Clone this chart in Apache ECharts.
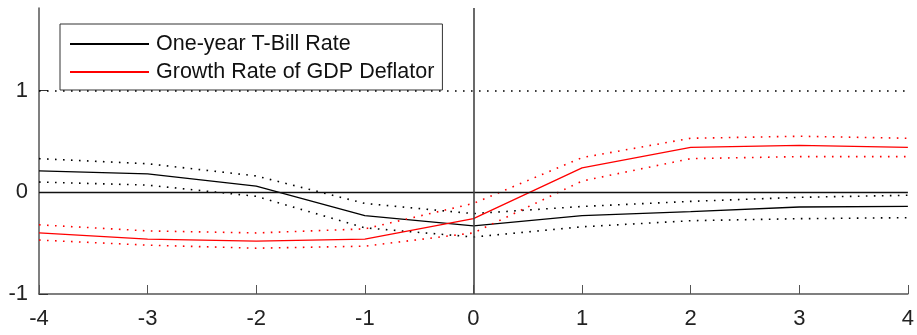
<!DOCTYPE html>
<html>
<head>
<meta charset="utf-8">
<script src="https://cdn.jsdelivr.net/npm/echarts@6/dist/echarts.min.js"></script>
<style>
  html, body { margin: 0; padding: 0; background: #fff; }
  #chart { width: 917px; height: 335px; }
</style>
</head>
<body>
<div id="chart"></div>
<script>
// Horizons (quarters relative to the shock)
const horizons = [-4, -3, -2, -1, 0, 1, 2, 3, 4];

// One-year T-Bill rate response and its confidence band
const tbill      = [0.21, 0.18, 0.06, -0.23, -0.33, -0.23, -0.19, -0.145, -0.14];
const tbillUpper = [0.33, 0.28, 0.16, -0.11, -0.21, -0.14, -0.09, -0.05, -0.03];
const tbillLower = [0.10, 0.07, -0.04, -0.35, -0.44, -0.34, -0.28, -0.26, -0.25];

// Growth rate of GDP deflator response and its confidence band
const deflator      = [-0.40, -0.46, -0.48, -0.46, -0.26, 0.24, 0.44, 0.46, 0.44];
const deflatorUpper = [-0.32, -0.38, -0.40, -0.36, -0.11, 0.34, 0.53, 0.55, 0.53];
const deflatorLower = [-0.47, -0.52, -0.55, -0.53, -0.40, 0.11, 0.33, 0.35, 0.35];

// Axis settings
const yTicks = [-1, 0, 1];
const seriesNames = ['One-year T-Bill Rate', 'Growth Rate of GDP Deflator'];

const pairs = vals => horizons.map((h, i) => [h, vals[i]]);
const dotted = [1.6, 6.4];

function lineSeries(name, vals, color, dashed) {
  return {
    name: name,
    type: 'line',
    data: pairs(vals),
    symbol: 'none',
    silent: true,
    animation: false,
    itemStyle: { color: color },
    lineStyle: { color: color, width: dashed ? 1.6 : 1.3, type: dashed ? dotted : 'solid' },
    z: color === 'red' ? 4 : 3
  };
}

const chart = echarts.init(document.getElementById('chart'), null, { renderer: 'canvas' });

const font = '"Liberation Sans", Arial, sans-serif';

chart.setOption({
  animation: false,
  grid: { left: 39, right: 6, top: 8, bottom: 41, containLabel: false },
  legend: {
    data: seriesNames,
    orient: 'vertical',
    left: 60,
    top: 24,
    padding: [9, 8, 7, 9],
    itemGap: 6,
    itemWidth: 79,
    itemHeight: 14,
    borderColor: '#333',
    borderWidth: 1,
    backgroundColor: '#fff',
    itemStyle: { opacity: 0 },
    textStyle: { fontFamily: font, fontSize: 21.5, color: '#111', padding: [0, 0, 0, 2] },
    selectedMode: false
  },
  xAxis: {
    type: 'value',
    min: -4,
    max: 4,
    interval: 1,
    axisLine: { onZero: false, lineStyle: { color: '#555', width: 1.5 } },
    axisTick: { inside: true, length: 9, lineStyle: { color: '#555', width: 1 } },
    axisLabel: { margin: 14, fontFamily: font, fontSize: 22, color: '#222' },
    splitLine: { show: false }
  },
  yAxis: {
    type: 'value',
    min: -1,
    max: 1.81,
    axisLine: { show: true, onZero: false, lineStyle: { color: '#555', width: 1.5 } },
    axisTick: { show: true, inside: true, length: 9, customValues: yTicks, lineStyle: { color: '#333', width: 1 } },
    axisLabel: { margin: 11, fontFamily: font, fontSize: 22, color: '#222', customValues: yTicks, padding: [4, 0, 0, 0] },
    splitLine: { show: false }
  },
  series: [
    Object.assign(lineSeries(seriesNames[0], tbill, '#000', false), {
      markLine: {
        silent: true,
        symbol: 'none',
        label: { show: false },
        animation: false,
        data: [
          { yAxis: 0, lineStyle: { color: '#111', width: 1.3, type: 'solid' } },
          { yAxis: 1, lineStyle: { color: '#000', width: 1.6, type: dotted } },
          { xAxis: 0, lineStyle: { color: '#444', width: 1.6, type: 'solid' } }
        ]
      }
    }),
    lineSeries('T-Bill upper band', tbillUpper, '#000', true),
    lineSeries('T-Bill lower band', tbillLower, '#000', true),
    lineSeries(seriesNames[1], deflator, 'red', false),
    lineSeries('Deflator upper band', deflatorUpper, 'red', true),
    lineSeries('Deflator lower band', deflatorLower, 'red', true)
  ]
});
</script>
</body>
</html>
